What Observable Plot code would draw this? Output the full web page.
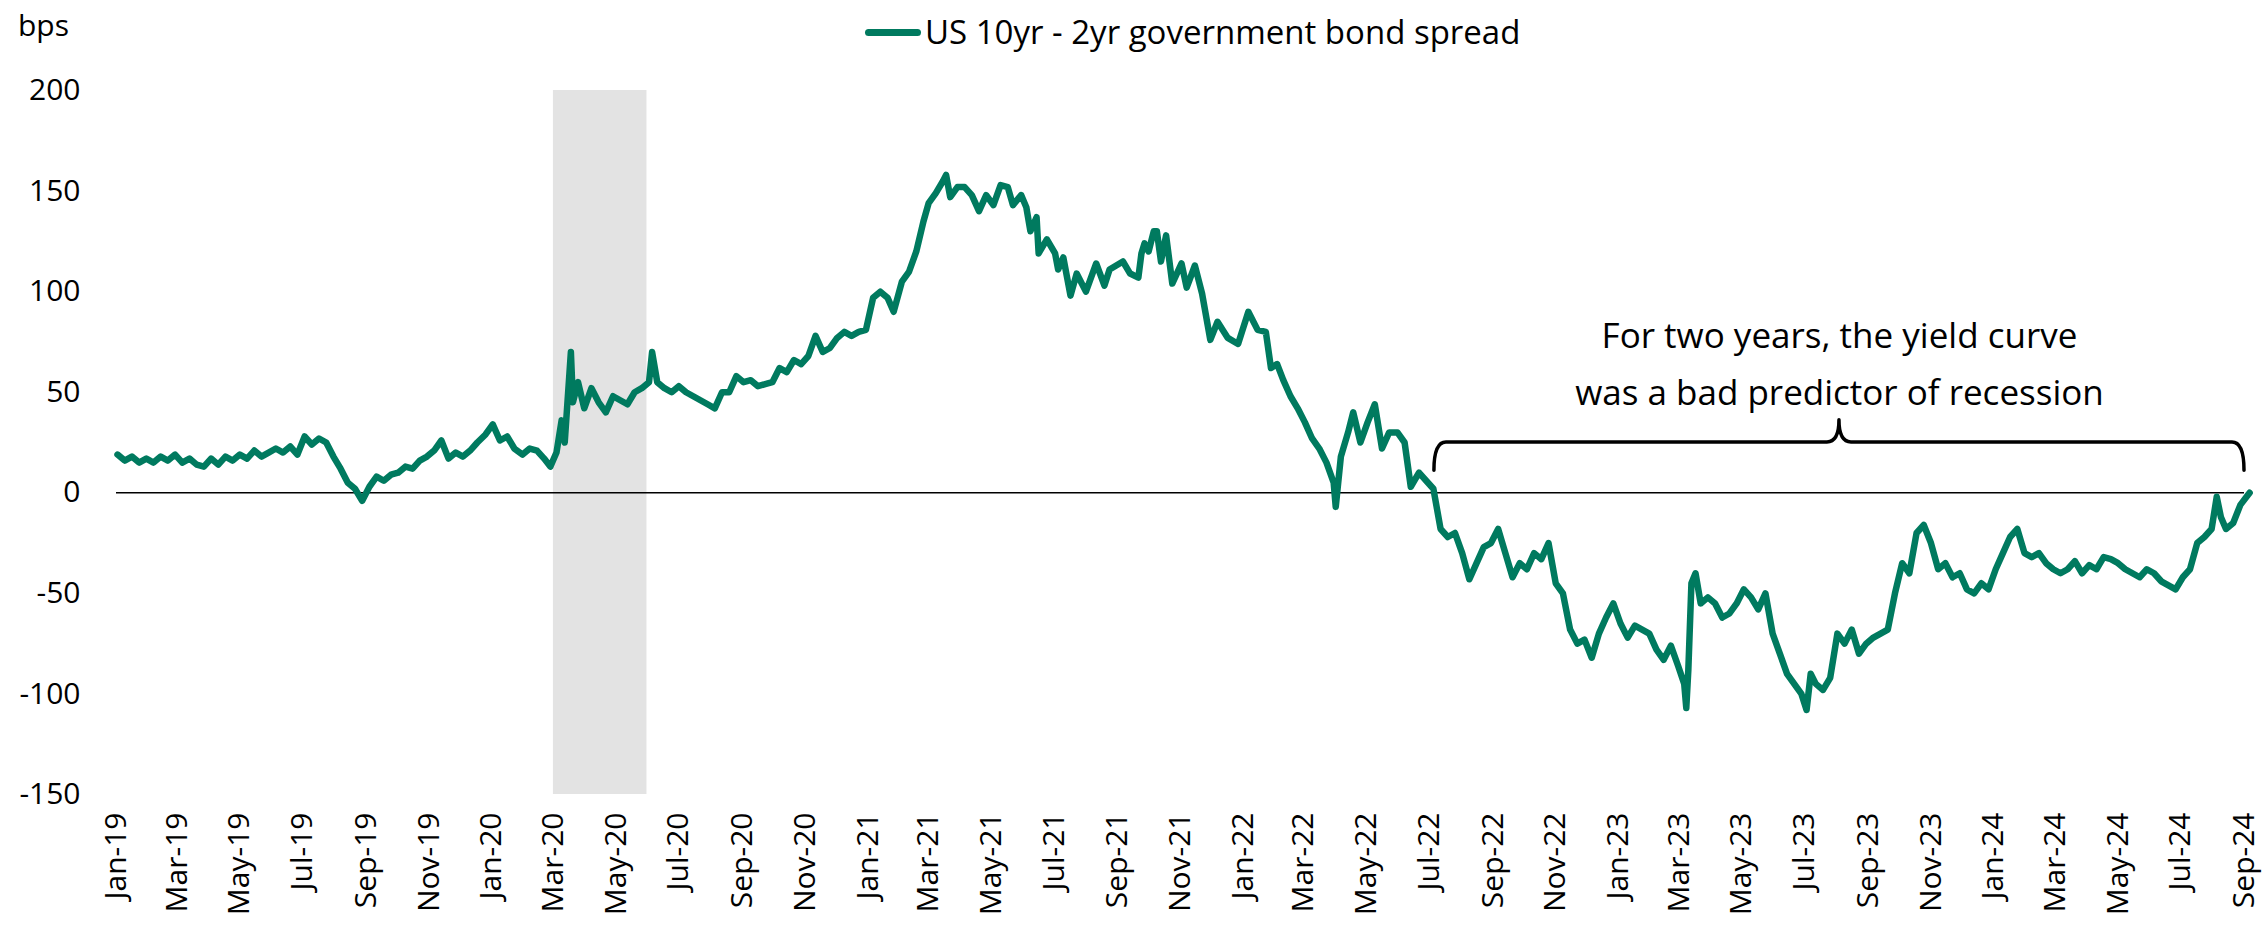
<!DOCTYPE html>
<html>
<head>
<meta charset="utf-8">
<script src="https://cdn.jsdelivr.net/npm/d3@7"></script>
<script src="https://cdn.jsdelivr.net/npm/@observablehq/plot@0.6"></script>
<style>
  body { margin: 0; background: #fff; font-family: "Open Sans", sans-serif; color: #000; }
  #wrap { position: relative; width: 2267px; height: 934px; }
  #legend { position: absolute; top: 8px; left: 865px; font-size: 33px; line-height: 48px; display: flex; align-items: center; white-space: nowrap; }
  #legend .sw { display: inline-block; width: 56px; height: 7px; border-radius: 3.5px; background: #007a5f; margin-right: 4px; }
  #bps { position: absolute; top: 5px; left: 18px; font-size: 30px; line-height: 40px; }
  #chart { position: absolute; top: 0; left: 0; }
</style>
</head>
<body>
<div id="wrap">
  <div id="chart"></div>
  <div id="bps">bps</div>
  <div id="legend"><span class="sw"></span><span id="legendText"></span></div>
</div>
<script>
// ---------- DATA ----------
const seriesName = "US 10yr - 2yr government bond spread";
const yUnit = "bps";

const s2019 = [
  ["2019-01-02",19],["2019-01-09",16],["2019-01-16",18],["2019-01-23",15],["2019-01-30",17],
  ["2019-02-06",15],["2019-02-13",18],["2019-02-20",16],["2019-02-27",19],
  ["2019-03-06",15],["2019-03-13",17],["2019-03-20",14],["2019-03-27",13],
  ["2019-04-03",17],["2019-04-10",14],["2019-04-17",18],["2019-04-24",16],
  ["2019-05-01",19],["2019-05-08",17],["2019-05-15",21],["2019-05-22",18],["2019-05-29",20],
  ["2019-06-05",22],["2019-06-12",20],["2019-06-19",23],["2019-06-26",19],
  ["2019-07-03",28],["2019-07-10",24],["2019-07-17",27],["2019-07-24",25],["2019-07-31",18],
  ["2019-08-07",12],["2019-08-14",5],["2019-08-21",2],["2019-08-28",-4],
  ["2019-09-04",3],["2019-09-11",8],["2019-09-18",6],["2019-09-25",9],
  ["2019-10-02",10],["2019-10-09",13],["2019-10-16",12],["2019-10-23",16],["2019-10-30",18],
  ["2019-11-06",21],["2019-11-13",26],["2019-11-20",17],["2019-11-27",20],
  ["2019-12-04",18],["2019-12-11",21],["2019-12-18",25],["2019-12-26",29]
];
const s2020 = [
  ["2020-01-02",34],["2020-01-09",26],["2020-01-16",28],["2020-01-23",22],["2020-01-31",19],
  ["2020-02-07",22],["2020-02-14",21],["2020-02-21",17],["2020-02-27",13],
  ["2020-03-04",20],["2020-03-09",36],["2020-03-12",25],["2020-03-18",70],["2020-03-20",45],["2020-03-25",55],["2020-03-31",42],
  ["2020-04-07",52],["2020-04-14",45],["2020-04-21",40],["2020-04-28",48],
  ["2020-05-05",46],["2020-05-12",44],["2020-05-19",50],["2020-05-26",52],
  ["2020-06-02",55],["2020-06-05",70],["2020-06-10",55],["2020-06-17",52],["2020-06-24",50],
  ["2020-07-01",53],["2020-07-08",50],["2020-07-15",48],["2020-07-22",46],["2020-07-29",44],
  ["2020-08-05",42],["2020-08-12",50],["2020-08-19",50],["2020-08-26",58],
  ["2020-09-02",55],["2020-09-09",56],["2020-09-16",53],["2020-09-23",54],["2020-09-30",55],
  ["2020-10-07",62],["2020-10-14",60],["2020-10-21",66],["2020-10-28",64],
  ["2020-11-04",68],["2020-11-11",78],["2020-11-18",70],["2020-11-25",72],
  ["2020-12-02",77],["2020-12-09",80],["2020-12-16",78],["2020-12-23",80],["2020-12-30",81]
];
const s2021 = [
  ["2021-01-06",97],["2021-01-13",100],["2021-01-20",97],["2021-01-26",90],
  ["2021-02-03",105],["2021-02-10",110],["2021-02-17",120],["2021-02-24",135],
  ["2021-03-01",144],["2021-03-08",149],["2021-03-15",155],["2021-03-18",158],["2021-03-22",147],["2021-03-29",152],
  ["2021-04-05",152],["2021-04-12",148],["2021-04-19",140],["2021-04-26",148],
  ["2021-05-03",143],["2021-05-10",153],["2021-05-17",152],["2021-05-22",143],["2021-05-30",148],
  ["2021-06-04",142],["2021-06-08",130],["2021-06-14",137],["2021-06-16",119],["2021-06-24",126],
  ["2021-07-02",119],["2021-07-05",111],["2021-07-10",117],["2021-07-17",98],["2021-07-23",109],
  ["2021-08-01",100],["2021-08-11",114],["2021-08-19",103],["2021-08-24",111],
  ["2021-09-06",115],["2021-09-13",109],["2021-09-21",107],["2021-09-24",119],["2021-09-27",124],
  ["2021-10-01",120],["2021-10-06",130],["2021-10-09",130],["2021-10-13",115],["2021-10-18",128],["2021-10-24",104],
  ["2021-11-02",114],["2021-11-07",102],["2021-11-15",113],["2021-11-22",99],["2021-11-30",76],
  ["2021-12-07",85],["2021-12-17",77],["2021-12-27",74]
];
const s2022 = [
  ["2022-01-06",90],["2022-01-15",81],["2022-01-23",80],["2022-01-28",62],
  ["2022-02-03",64],["2022-02-09",56],["2022-02-16",48],["2022-02-23",42],
  ["2022-03-02",35],["2022-03-09",27],["2022-03-16",22],["2022-03-23",15],["2022-03-30",5],
  ["2022-04-01",-7],["2022-04-06",18],["2022-04-13",30],["2022-04-18",40],["2022-04-25",25],
  ["2022-05-02",35],["2022-05-09",44],["2022-05-16",22],["2022-05-23",30],["2022-05-31",30],
  ["2022-06-07",25],["2022-06-13",3],["2022-06-21",10],["2022-06-28",6],
  ["2022-07-05",2],["2022-07-12",-18],["2022-07-19",-22],["2022-07-26",-20],
  ["2022-08-02",-30],["2022-08-09",-43],["2022-08-16",-35],["2022-08-23",-27],["2022-08-30",-25],
  ["2022-09-06",-18],["2022-09-13",-30],["2022-09-20",-42],["2022-09-27",-35],
  ["2022-10-04",-38],["2022-10-11",-30],["2022-10-18",-33],["2022-10-25",-25],
  ["2022-11-01",-45],["2022-11-08",-50],["2022-11-15",-68],["2022-11-22",-75],["2022-11-29",-73],
  ["2022-12-06",-82],["2022-12-13",-70],["2022-12-20",-62],["2022-12-27",-55]
];
const s2023 = [
  ["2023-01-03",-65],["2023-01-10",-72],["2023-01-17",-66],["2023-01-24",-68],["2023-01-31",-70],
  ["2023-02-07",-78],["2023-02-14",-83],["2023-02-21",-76],["2023-02-28",-86],
  ["2023-03-06",-95],["2023-03-08",-107],["2023-03-10",-88],["2023-03-13",-45],["2023-03-17",-40],["2023-03-22",-55],["2023-03-29",-52],
  ["2023-04-05",-55],["2023-04-12",-62],["2023-04-19",-60],["2023-04-26",-55],
  ["2023-05-03",-48],["2023-05-10",-52],["2023-05-17",-58],["2023-05-24",-50],["2023-05-31",-70],
  ["2023-06-07",-80],["2023-06-14",-90],["2023-06-21",-95],["2023-06-28",-100],
  ["2023-07-03",-108],["2023-07-07",-90],["2023-07-12",-95],["2023-07-19",-98],["2023-07-26",-92],
  ["2023-08-02",-70],["2023-08-09",-75],["2023-08-16",-68],["2023-08-23",-80],["2023-08-30",-75],
  ["2023-09-06",-72],["2023-09-13",-70],["2023-09-20",-68],["2023-09-27",-50],
  ["2023-10-04",-35],["2023-10-11",-40],["2023-10-18",-20],["2023-10-25",-16],
  ["2023-11-01",-25],["2023-11-08",-38],["2023-11-15",-35],["2023-11-22",-42],["2023-11-29",-40],
  ["2023-12-06",-48],["2023-12-13",-50],["2023-12-20",-45],["2023-12-27",-48]
];
const s2024 = [
  ["2024-01-03",-38],["2024-01-10",-30],["2024-01-17",-22],["2024-01-24",-18],["2024-01-31",-30],
  ["2024-02-07",-32],["2024-02-14",-30],["2024-02-21",-35],["2024-02-28",-38],
  ["2024-03-06",-40],["2024-03-13",-38],["2024-03-20",-34],["2024-03-27",-40],
  ["2024-04-03",-36],["2024-04-10",-38],["2024-04-17",-32],["2024-04-24",-33],
  ["2024-05-01",-35],["2024-05-08",-38],["2024-05-15",-40],["2024-05-22",-42],["2024-05-29",-38],
  ["2024-06-05",-40],["2024-06-12",-44],["2024-06-19",-46],["2024-06-26",-48],
  ["2024-07-03",-42],["2024-07-10",-38],["2024-07-17",-25],["2024-07-24",-22],["2024-07-31",-18],
  ["2024-08-05",-2],["2024-08-09",-12],["2024-08-14",-18],["2024-08-21",-15],["2024-08-28",-6],
  ["2024-09-03",-2],["2024-09-06",0]
];

// shaded recession period
const shadedPeriods = [["2020-03-01", "2020-05-31"]];

// axis ticks
const yTicks = [-150, -100, -50, 0, 50, 100, 150, 200];
const xTickStart = "2019-01-01", xTickEnd = "2024-09-01", xTickStepMonths = 2;

// annotation
const annotationText = ["For two years, the yield curve", "was a bad predictor of recession"];
const annotationAnchor = ["2023-08-04", 67];
const braceStart = "2022-07-06", braceEnd = "2024-09-01", braceTip = "2023-08-04";
const braceLevel = 25, braceEndLevel = 11, braceTipLevel = 36;

// ---------- BUILD ----------
const parse = d3.utcParse("%Y-%m-%d");
const spread = [...s2019, ...s2020, ...s2021, ...s2022, ...s2023, ...s2024]
  .map(([d, v]) => ({date: parse(d), value: v}));
const shade = shadedPeriods.map(([a, b]) => ({start: parse(a), end: parse(b)}));
const xTicks = d3.utcMonth.range(parse(xTickStart), d3.utcDay.offset(parse(xTickEnd), 1), xTickStepMonths);

document.getElementById("legendText").textContent = seriesName;
document.getElementById("bps").textContent = yUnit;

const braceMark = (index, {x, y}) => {
  const x0 = x(parse(braceStart)), x1 = x(parse(braceEnd)), xm = x(parse(braceTip));
  const yb = y(braceLevel), ye = y(braceEndLevel), yt = y(braceTipLevel);
  const r = 12;
  const d = `M${x0},${ye} Q${x0},${yb} ${x0 + r},${yb} L${xm - r},${yb} Q${xm},${yb} ${xm},${yt} ` +
            `Q${xm},${yb} ${xm + r},${yb} L${x1 - r},${yb} Q${x1},${yb} ${x1},${ye}`;
  const p = document.createElementNS("http://www.w3.org/2000/svg", "path");
  p.setAttribute("d", d);
  p.setAttribute("fill", "none");
  p.setAttribute("stroke", "#000");
  p.setAttribute("stroke-width", 3.5);
  p.setAttribute("stroke-linecap", "round");
  p.setAttribute("stroke-linejoin", "round");
  return p;
};

const chart = Plot.plot({
  width: 2267,
  height: 934,
  marginLeft: 116,
  marginRight: 23,
  marginTop: 90,
  marginBottom: 140,
  style: {fontFamily: "'Open Sans', sans-serif", fontSize: "29px", color: "#000", background: "transparent", overflow: "visible"},
  x: {type: "utc", domain: [parse(xTickStart), parse(xTickEnd)]},
  y: {domain: [-150, 200]},
  marks: [
    Plot.rect(shade, {x1: "start", x2: "end", fill: "#e3e3e3"}),
    Plot.ruleY([0], {stroke: "#000", strokeWidth: 1.5}),
    Plot.line(spread, {x: "date", y: "value", stroke: "#007a5f", strokeWidth: 6.5, strokeLinejoin: "round", strokeLinecap: "round"}),
    Plot.axisY({ticks: yTicks, tickFormat: d => `${d}`, tickSize: 0, tickPadding: 36, label: null, fontSize: 30}),
    Plot.axisX({ticks: xTicks, tickFormat: d3.utcFormat("%b-%y"), tickRotate: -90, tickSize: 0, tickPadding: 18, label: null, fontSize: 30}),
    braceMark,
    Plot.text([{date: parse(annotationAnchor[0]), value: annotationAnchor[1], t: annotationText.join("\n")}],
      {x: "date", y: "value", text: "t", fontSize: 35, lineHeight: 1.65, textAnchor: "middle", fill: "#000"})
  ]
});
document.getElementById("chart").appendChild(chart);
</script>
</body>
</html>
